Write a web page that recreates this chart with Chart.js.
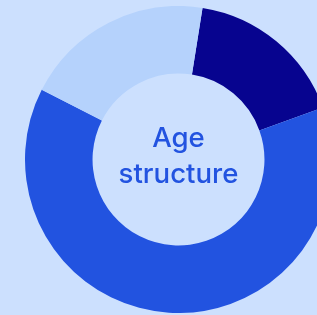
<!DOCTYPE html>
<html>
<head>
<meta charset="utf-8">
<script src="https://cdn.jsdelivr.net/npm/chart.js@4.4.0/dist/chart.umd.min.js"></script>
<style>
  html, body { margin: 0; padding: 0; width: 317px; height: 315px; overflow: hidden; background: #cce0fe; }
  #wrap { position: absolute; left: 25px; top: 6px; width: 307px; height: 307px; }
</style>
</head>
<body>
<div id="wrap"><canvas id="grafico"></canvas></div>
<script>
const categorias = ["Young", "Working age", "Elderly"];
const valores = [17, 63, 20];
const cores = ["#07048f", "#2253e0", "#b5d2fc"];
const titulo = ["Age", "structure"];

const textoCentro = {
  id: "textoCentro",
  afterDraw(chart) {
    const ctx = chart.ctx;
    const arc = chart.getDatasetMeta(0).data[0];
    ctx.save();
    ctx.fillStyle = "#2253e0";
    // fit "structure" to ~120px wide like the reference
    let size = 22;
    ctx.font = "500 " + size + "px Inter, sans-serif";
    const w = ctx.measureText(titulo[1]).width;
    size = size * 120 / w;
    ctx.font = "500 " + size.toFixed(1) + "px Inter, sans-serif";
    ctx.textAlign = "center";
    ctx.textBaseline = "alphabetic";
    ctx.fillText(titulo[0], arc.x, arc.y - 13);
    ctx.fillText(titulo[1], arc.x, arc.y + 23);
    ctx.restore();
  }
};

const ctx = document.getElementById("grafico").getContext("2d");
let myChart = new Chart(ctx, {
  type: "doughnut",
  data: {
    labels: categorias,
    datasets: [
      {
        data: valores,
        backgroundColor: cores,
        borderWidth: 0,
      },
    ],
  },
  options: {
    responsive: true,
    maintainAspectRatio: false,
    animation: false,
    cutout: "56%",
    rotation: 9,
    layout: { padding: 0 },
    plugins: {
      legend: { display: false },
      tooltip: { enabled: false },
    },
  },
  plugins: [textoCentro],
});
</script>
</body>
</html>
